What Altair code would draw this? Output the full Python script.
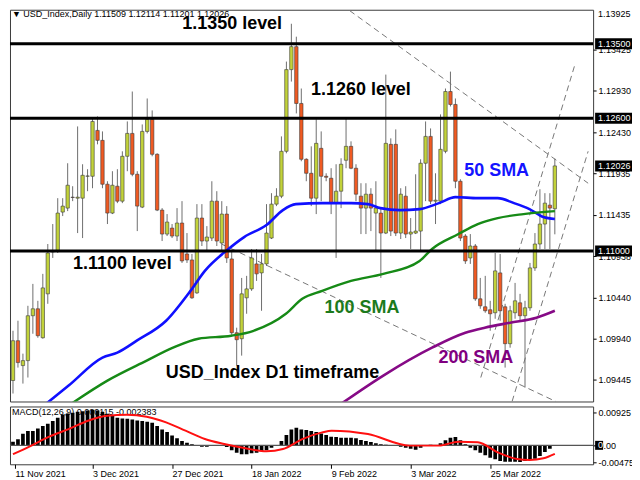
import altair as alt
import pandas as pd

FONT = "Liberation Sans"

# ---------------- data ----------------
# x = trading-day index, 0 = 11 Nov 2021
date_tick_bars = [0, 16, 32, 48, 64, 80, 96]
date_tick_labels = ["11 Nov 2021", "3 Dec 2021", "27 Dec 2021", "18 Jan 2022",
                    "9 Feb 2022", "3 Mar 2022", "25 Mar 2022"]

opens = [1.09438, 1.09918, 1.09618, 1.09678, 1.10219, 1.10303, 1.09954, 1.10483, 1.11000, 1.11000,
         1.11469, 1.11517, 1.11649, 1.11637, 1.11637, 1.11901, 1.11901, 1.12454, 1.12334, 1.11805,
         1.11457, 1.11781, 1.11601, 1.12142, 1.12418, 1.11925, 1.11529, 1.12442, 1.12587, 1.12166,
         1.11493, 1.11204, 1.11276, 1.11180, 1.11337, 1.10964, 1.10892, 1.10495, 1.11397, 1.11120,
         1.11156, 1.11601, 1.11096, 1.11445, 1.10904, 1.10014, 1.09942, 1.10435, 1.10543, 1.10844,
         1.10736, 1.10844, 1.11156, 1.11565, 1.11661, 1.12202, 1.13187, 1.13464, 1.12779, 1.12106,
         1.11937, 1.11637, 1.12238, 1.11901, 1.11877, 1.11577, 1.11721, 1.12094, 1.12262, 1.11998,
         1.11661, 1.11517, 1.11685, 1.11457, 1.11457, 1.11216, 1.12286, 1.12286, 1.11216, 1.11661,
         1.11204, 1.11216, 1.11240, 1.12058, 1.12382, 1.11601, 1.11601, 1.12202, 1.12923, 1.12767,
         1.11841, 1.11180, 1.10916, 1.11060, 1.10423, 1.10327, 1.10291, 1.10255, 1.10736, 1.10327,
         1.09882, 1.10255, 1.10375, 1.10219, 1.10315, 1.10796, 1.11084, 1.11325, 1.11553, 1.11509]
highs = [1.10038, 1.10159, 1.09762, 1.10339, 1.10603, 1.10399, 1.10724, 1.11084, 1.11325, 1.11637,
         1.11637, 1.12058, 1.11781, 1.12502, 1.12046, 1.11986, 1.12599, 1.12623, 1.12442, 1.11841,
         1.11962, 1.11986, 1.12202, 1.12562, 1.12923, 1.11962, 1.12526, 1.12839, 1.12695, 1.12178,
         1.11517, 1.11445, 1.11325, 1.11517, 1.11601, 1.11216, 1.10964, 1.11565, 1.11565, 1.11300,
         1.11841, 1.11721, 1.11601, 1.11541, 1.11000, 1.10075, 1.10675, 1.10700, 1.11024, 1.11024,
         1.10964, 1.11565, 1.11697, 1.11757, 1.12382, 1.13284, 1.13740, 1.13584, 1.12959, 1.12118,
         1.12262, 1.12587, 1.12442, 1.11937, 1.11998, 1.12046, 1.12118, 1.12599, 1.12322, 1.12046,
         1.11817, 1.11817, 1.11757, 1.11841, 1.11517, 1.13127, 1.12358, 1.12466, 1.11757, 1.11781,
         1.11397, 1.11925, 1.12106, 1.12562, 1.12478, 1.11937, 1.12647, 1.12959, 1.13163, 1.12839,
         1.11865, 1.11204, 1.11204, 1.11084, 1.10675, 1.10700, 1.10399, 1.10976, 1.10964, 1.10363,
         1.10339, 1.10615, 1.10483, 1.10399, 1.10856, 1.11216, 1.11745, 1.11697, 1.11697, 1.12114]
lows = [1.09281, 1.09594, 1.09401, 1.09474, 1.10002, 1.09954, 1.09942, 1.10363, 1.10916, 1.10976,
        1.11421, 1.11481, 1.11601, 1.11216, 1.11156, 1.11721, 1.11757, 1.12286, 1.11757, 1.11325,
        1.11445, 1.11577, 1.11577, 1.11962, 1.11901, 1.11240, 1.11517, 1.12418, 1.12142, 1.11481,
        1.11120, 1.11180, 1.11156, 1.11120, 1.10856, 1.10856, 1.10423, 1.10483, 1.11060, 1.11000,
        1.11120, 1.11060, 1.11000, 1.10856, 1.09978, 1.09618, 1.09738, 1.10243, 1.10519, 1.10639,
        1.10279, 1.10820, 1.11144, 1.11541, 1.11637, 1.12178, 1.13043, 1.12659, 1.12082, 1.11841,
        1.11541, 1.11445, 1.11601, 1.11841, 1.11445, 1.10916, 1.11517, 1.11998, 1.11986, 1.11601,
        1.11204, 1.11204, 1.11240, 1.11000, 1.10675, 1.11204, 1.11180, 1.11180, 1.11144, 1.11156,
        1.11024, 1.11204, 1.11000, 1.11601, 1.11565, 1.11325, 1.11565, 1.12178, 1.12743, 1.11757,
        1.11120, 1.10844, 1.10844, 1.10399, 1.10303, 1.10255, 1.10038, 1.10183, 1.10159, 1.09594,
        1.09834, 1.10183, 1.10159, 1.09353, 1.10279, 1.10760, 1.11024, 1.11024, 1.11024, 1.11201]
closes = [1.09918, 1.09654, 1.09678, 1.10219, 1.10303, 1.09978, 1.10555, 1.10976, 1.10988, 1.11457,
          1.11541, 1.11793, 1.11645, 1.11649, 1.11913, 1.11905, 1.12562, 1.12334, 1.11805, 1.11457,
          1.11793, 1.11601, 1.12142, 1.12418, 1.11925, 1.11541, 1.12442, 1.12587, 1.12166, 1.11493,
          1.11204, 1.11349, 1.11180, 1.11337, 1.10880, 1.10892, 1.10435, 1.11397, 1.11120, 1.11168,
          1.11601, 1.11120, 1.11445, 1.10916, 1.10014, 1.09930, 1.10483, 1.10543, 1.10916, 1.10724,
          1.10844, 1.11216, 1.11565, 1.11661, 1.12202, 1.13187, 1.13464, 1.12779, 1.12106, 1.11937,
          1.11637, 1.12298, 1.11901, 1.11889, 1.11577, 1.11721, 1.12046, 1.12262, 1.11998, 1.11685,
          1.11517, 1.11685, 1.11517, 1.11517, 1.11216, 1.12298, 1.11240, 1.11216, 1.11685, 1.11204,
          1.11228, 1.11240, 1.12058, 1.12382, 1.11601, 1.11613, 1.12226, 1.12923, 1.12767, 1.11841,
          1.11156, 1.10880, 1.11060, 1.10423, 1.10339, 1.10279, 1.10243, 1.10760, 1.10279, 1.09882,
          1.10279, 1.10399, 1.10219, 1.10315, 1.10796, 1.11084, 1.11325, 1.11577, 1.11517, 1.12026]

# moving averages (index, value)
sma50_bars = [6.3, 11.2, 18.0, 21.0, 24.9, 30.8, 35.7, 38.6, 43.1, 46.5, 51.0, 54.3, 56.9, 62.2,
              68.0, 71.4, 73.9, 77.8, 81.8, 85.7, 89.0, 93.5, 97.5, 100.8, 103.9, 106.7, 109.0]
sma50_vals = [1.09140, 1.09377, 1.09714, 1.09774, 1.09918, 1.10159, 1.10519, 1.10760, 1.11012,
              1.11168, 1.11313, 1.11493, 1.11565, 1.11577, 1.11577, 1.11565, 1.11517, 1.11493,
              1.11505, 1.11577, 1.11649, 1.11637, 1.11637, 1.11577, 1.11505, 1.11409, 1.11385]
sma100_bars = [11.3, 19.0, 26.9, 32.2, 37.3, 43.9, 48.4, 54.9, 58.2, 62.2, 68.0, 74.5, 81.8,
               84.3, 89.6, 93.5, 97.5, 102.7, 109.0]
sma100_vals = [1.09140, 1.09437, 1.09678, 1.09834, 1.09942, 1.09978, 1.10038, 1.10243, 1.10423,
               1.10519, 1.10639, 1.10724, 1.10880, 1.11024, 1.11204, 1.11325, 1.11397, 1.11445, 1.11481]
sma200_bars = [65.6, 74.5, 84.3, 91.0, 94.9, 100.0, 105.3, 109.0]
sma200_vals = [1.09140, 1.09498, 1.09834, 1.10014, 1.10075, 1.10135, 1.10195, 1.10279]

# horizontal levels and dashed trend lines (endpoints)
level_prices = [1.13500, 1.12600, 1.11000]
trend_ids = ["t1", "t1", "t2", "t2", "t3", "t3", "t4", "t4"]
trend_bars = [66.1, 115.7, 42.0, 109.2, 94.1, 113.1, 100.4, 115.7]
trend_prices = [1.13969, 1.11817, 1.11082, 1.09185, 1.09474, 1.13260, 1.09185, 1.12202]

# annotations
ann_text = ["1.1350 level", "1.1260 level", "1.1100 level", "50 SMA", "100 SMA", "200 SMA",
            "USD_Index D1 timeframe"]
ann_bar = [44.1, 70.0, 22.0, 97.3, 70.2, 93.1, 52.2]
ann_price = [1.13740, 1.12947, 1.10844, 1.11962, 1.10315, 1.09714, 1.09534]
ann_color = ["black", "black", "black", "#1414ff", "#1c7a1c", "#800080", "black"]

# price axis labels
price_ticks = [1.13425, 1.12930, 1.12430, 1.11935, 1.11435, 1.10938, 1.10440, 1.09940, 1.09445]
top_price_label = "1.13925"

# MACD(12,26,9)
macd_vals = [0.00103, 0.00168, 0.00327, 0.00402, 0.00402, 0.00476, 0.00542, 0.00607, 0.00682, 0.00775,
             0.00869, 0.00897, 0.00916, 0.00944, 0.00962, 0.00981, 0.01000, 0.00981, 0.00944, 0.00888,
             0.00822, 0.00775, 0.00757, 0.00747, 0.00729, 0.00701, 0.00682, 0.00663, 0.00635, 0.00542,
             0.00448, 0.00374, 0.00280, 0.00196, 0.00121, 0.00075, 0.00028, 0.00009, -0.00037, -0.00037,
             -0.00009, 0.00000, -0.00009, -0.00047, -0.00140, -0.00206, -0.00252, -0.00252, -0.00224, -0.00206,
             -0.00159, -0.00140, -0.00065, 0.00000, 0.00121, 0.00290, 0.00448, 0.00495, 0.00448, 0.00430,
             0.00402, 0.00374, 0.00336, 0.00290, 0.00243, 0.00234, 0.00215, 0.00215, 0.00215, 0.00196,
             0.00149, 0.00121, 0.00093, 0.00056, 0.00028, 0.00019, 0.00009, -0.00019, -0.00037, -0.00065,
             -0.00093, -0.00121, -0.00065, -0.00019, 0.00019, 0.00009, 0.00056, 0.00140, 0.00215, 0.00234,
             0.00140, 0.00028, -0.00065, -0.00140, -0.00206, -0.00280, -0.00346, -0.00392, -0.00439, -0.00458,
             -0.00458, -0.00458, -0.00467, -0.00439, -0.00411, -0.00374, -0.00299, -0.00187, -0.00093, 0.000115]
signal_bars = [0, 3.3, 7.3, 11.2, 15.1, 19.0, 22.9, 26.9, 30.8, 34.7, 38.6, 42.5, 46.5, 51.0,
               54.3, 58.2, 62.2, 64.1, 71.4, 79.8, 85.7, 89.6, 93.5, 97.5, 101.4, 103.9, 106.7, 109.0]
signal_vals = [-0.00250, -0.00036, 0.00244, 0.00457, 0.00692, 0.00832, 0.00860, 0.00804, 0.00645,
               0.00412, 0.00177, 0.00036, -0.00076, -0.00168, -0.00104, 0.00177, 0.00364, 0.00412,
               0.00317, -0.00008, -0.00008, 0.00104, 0.00084, -0.00196, -0.00384, -0.00412, -0.00364,
               -0.002383]
macd_ticks = [0.00925, 0.0, -0.004756]
macd_tick_labels = ["0.00925", "0.00", "-0.004756"]

# ---------------- layout ----------------
W = 585
H_MAIN = 393
H_MACD = 58
X_DOM = [0.4, 115.7]
Y_DOM = [1.09185, 1.13909]
M_DOM = [-0.00533, 0.01093]
BULL = "#c2d23a"
BEAR = "#f05a22"

xs = alt.Scale(domain=X_DOM, nice=False, zero=False)
ys = alt.Scale(domain=Y_DOM, nice=False, zero=False)
ms = alt.Scale(domain=M_DOM, nice=False, zero=False)

yaxis = alt.Axis(orient="right", values=price_ticks, format=".5f", tickSize=3, labelPadding=2,
                 domain=False, grid=False, labelFont=FONT, labelFontSize=9, labelColor="black",
                 tickColor="black", tickCount=30)


def X(f):
    return alt.X(f, type="quantitative", scale=xs, axis=None, title=None)


def Y(f):
    return alt.Y(f, type="quantitative", scale=ys, axis=yaxis, title=None)


N = len(opens)
df = pd.DataFrame({"bar": list(range(N)), "open": opens, "high": highs, "low": lows, "close": closes})
df["dir"] = ["up" if c >= o else "down" for o, c in zip(opens, closes)]

wicks = alt.Chart(df).mark_rule(color="#6e6e6e", strokeWidth=1, clip=True).encode(
    x=X("bar"), y=Y("low"), y2="high")
bodies = alt.Chart(df).mark_bar(size=3.4, stroke="#3a3a3a", strokeWidth=0.6, clip=True).encode(
    x=X("bar"), y=Y("open"), y2="close",
    color=alt.Color("dir:N", scale=alt.Scale(domain=["up", "down"], range=[BULL, BEAR]), legend=None))

trend_df = pd.DataFrame({"id": trend_ids, "bar": trend_bars, "price": trend_prices})
trends = alt.Chart(trend_df).mark_line(color="#777777", strokeWidth=1, strokeDash=[6, 4], clip=True).encode(
    x=X("bar"), y=Y("price"), detail="id:N")


def sma_layer(b, v, col, w):
    d = pd.DataFrame({"bar": b, "v": v})
    return alt.Chart(d).mark_line(color=col, strokeWidth=w, interpolate="monotone", clip=True).encode(
        x=X("bar"), y=Y("v"))


sma50 = sma_layer(sma50_bars, sma50_vals, "#1010ff", 2.6)
sma100 = sma_layer(sma100_bars, sma100_vals, "#168a16", 2.4)
sma200 = sma_layer(sma200_bars, sma200_vals, "#860a86", 2.6)

levels = alt.Chart(pd.DataFrame({"price": level_prices})).mark_rule(color="black", strokeWidth=3).encode(
    y=Y("price"))

ann_df = pd.DataFrame({"t": ann_text, "bar": ann_bar, "price": ann_price, "col": ann_color})
ann = alt.Chart(ann_df).mark_text(font=FONT, fontSize=18, fontWeight="bold", align="center",
                                  baseline="middle").encode(
    x=X("bar"), y=Y("price"), text="t:N", color=alt.Color("col:N", scale=None, legend=None))

box_prices = level_prices + [closes[-1]]
half = 5.5 * (Y_DOM[1] - Y_DOM[0]) / H_MAIN
box_df = pd.DataFrame({"price": box_prices, "label": [f"{p:.5f}" for p in box_prices]})
box_df["lo"] = box_df["price"] - half
box_df["hi"] = box_df["price"] + half
boxes = alt.Chart(box_df).mark_rect(color="black").encode(
    x=alt.value(W + 2), x2=alt.value(W + 42), y=Y("lo"), y2="hi")
box_text = alt.Chart(box_df).mark_text(font=FONT, fontSize=9, color="white", align="left",
                                       baseline="middle").encode(
    x=alt.value(W + 5), y=Y("price"), text="label:N")

top_lab = alt.Chart(pd.DataFrame({"t": [top_price_label]})).mark_text(
    font=FONT, fontSize=9, color="black", align="left", baseline="top").encode(
    x=alt.value(W + 5), y=alt.value(0), text="t:N")

header = "\u25BC USD_Index,Daily  " + " ".join(f"{v:.5f}" for v in [opens[-1], highs[-1], lows[-1], closes[-1]])
head = alt.Chart(pd.DataFrame({"t": [header]})).mark_text(
    font=FONT, fontSize=9, color="black", align="left", baseline="top").encode(
    x=alt.value(2), y=alt.value(0), text="t:N")

main = alt.layer(trends, wicks, bodies, sma50, sma100, sma200, levels, ann, boxes, box_text,
                 top_lab, head).resolve_scale(color="independent").properties(width=W, height=H_MAIN)

# ---------------- MACD panel ----------------
label_arr = "[" + ",".join("'" + s + "'" for s in date_tick_labels) + "]"
xaxis = alt.Axis(values=[max(b, X_DOM[0]) for b in date_tick_bars],
                 labelExpr=label_arr + "[round(datum.value/16)]",
                 labelAlign="left", labelFlush=False, labelPadding=1, tickSize=4, domain=False,
                 grid=False, labelFont=FONT, labelFontSize=9, labelColor="black", tickColor="black",
                 tickCount=30)
mexpr = "datum.value > 0.001 ? '%s' : (datum.value < -0.001 ? '%s' : '%s')" % (
    macd_tick_labels[0], macd_tick_labels[2], macd_tick_labels[1])
maxis = alt.Axis(orient="right", values=macd_ticks, labelExpr=mexpr, tickSize=3, labelPadding=2,
                 domain=False, grid=False, labelFont=FONT, labelFontSize=9, labelColor="black",
                 tickColor="black", tickCount=30)


def MX(f):
    return alt.X(f, type="quantitative", scale=xs, axis=xaxis, title=None)


def MY(f):
    return alt.Y(f, type="quantitative", scale=ms, axis=maxis, title=None)


mdf = pd.DataFrame({"bar": list(range(N)), "m": macd_vals, "z": [0.0] * N})
mhead = alt.Chart(pd.DataFrame({"t": ["MACD(12,26,9) %.6f %.6f" % (macd_vals[-1], signal_vals[-1])]})).mark_text(
    font=FONT, fontSize=9, color="black", align="left", baseline="middle").encode(
    x=alt.value(2), y=alt.value(6), text="t:N")
hist = alt.Chart(mdf).mark_bar(size=3.7, color="black", clip=True).encode(
    x=MX("bar"), y=MY("m"), y2="z")
zero = alt.Chart(pd.DataFrame({"z": [0.0]})).mark_rule(color="#555555", strokeWidth=1.2).encode(y=MY("z"))
sdf = pd.DataFrame({"bar": signal_bars, "s": signal_vals})
sig = alt.Chart(sdf).mark_line(color="#ff1010", strokeWidth=2, interpolate="monotone", clip=True).encode(
    x=MX("bar"), y=MY("s"))
zhalf = 4.5 * (M_DOM[1] - M_DOM[0]) / H_MACD
zbox_df = pd.DataFrame({"lo": [-zhalf], "hi": [zhalf], "z": [0.0], "t": ["0"]})
zbox = alt.Chart(zbox_df).mark_rect(color="black").encode(
    x=alt.value(W + 2), x2=alt.value(W + 10), y=MY("lo"), y2="hi")
ztext = alt.Chart(zbox_df).mark_text(font=FONT, fontSize=9, color="white", align="left",
                                     baseline="middle").encode(
    x=alt.value(W + 5), y=MY("z"), text="t:N")

macd = alt.layer(mhead, hist, zero, sig, zbox, ztext).properties(width=W, height=H_MACD)

chart = alt.vconcat(main, macd, spacing=3).properties(
    padding={"left": 0, "top": 0, "right": -8, "bottom": 0}, background="white").configure_view(
    stroke="#3c3c3c", strokeWidth=1)

chart.save("out.html", embed_options={"renderer": "svg", "actions": False})
